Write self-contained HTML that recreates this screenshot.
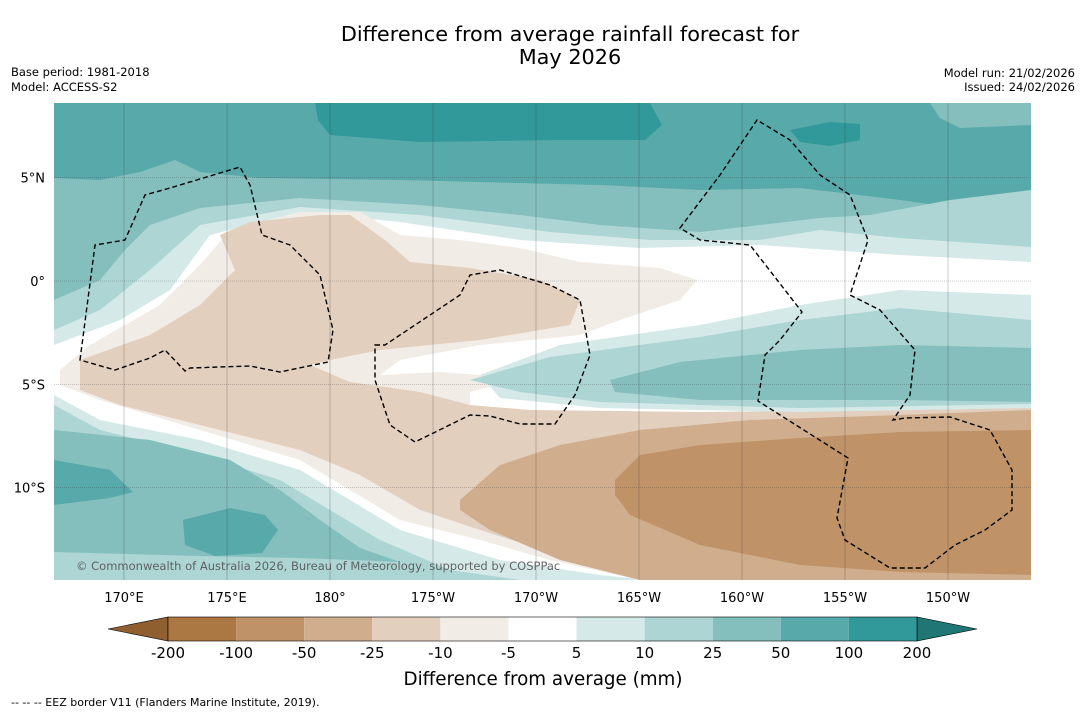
<!DOCTYPE html>
<html><head><meta charset="utf-8"><style>
html,body{margin:0;padding:0;background:#fff;}
body{width:1085px;height:713px;overflow:hidden;font-family:"Liberation Sans","DejaVu Sans",sans-serif;}
</style></head><body>
<svg id="chart" width="1085" height="713" xmlns="http://www.w3.org/2000/svg" font-family="DejaVu Sans, Liberation Sans, sans-serif">
<text x="570" y="41" font-size="20.8" text-anchor="middle">Difference from average rainfall forecast for</text>
<text x="570" y="64" font-size="20.8" text-anchor="middle">May 2026</text>
<text x="11" y="76" font-size="11.5">Base period: 1981-2018</text>
<text x="11" y="91" font-size="11.5">Model: ACCESS-S2</text>
<text x="1075" y="77" font-size="11.5" text-anchor="end">Model run: 21/02/2026</text>
<text x="1075" y="91" font-size="11.5" text-anchor="end">Issued: 24/02/2026</text>
<defs><clipPath id="mapclip"><rect x="54" y="103" width="977" height="477"/></clipPath></defs>
<g id="map" clip-path="url(#mapclip)">
<rect x="54" y="103" width="977" height="477" fill="#58a9aa"/>
<path fill="#319999" d="M315,103 L330,103 L650,103 L662,125 L645,140 L560,140 L420,142 L330,135 L318,120 Z M790,130 L830,122 L860,124 L860,140 L830,146 L800,142 Z"/>
<path fill="#84bfbe" d="M54,178 L100,180 L140,172 L175,160 L200,172 L260,178 L400,180 L600,185 L700,190 L800,188 L900,200 L950,207 L1031,205 L1031,580 L54,580 Z M930,103 L1031,103 L1031,125 L960,128 L940,118 Z"/>
<path fill="#acd5d4" d="M54,300 L100,280 L125,250 L150,225 L200,208 L300,198 L420,205 L520,215 L600,225 L700,232 L760,225 L820,218 L870,215 L950,200 L1031,190 L1031,580 L54,580 Z"/>
<path fill="#d5e9e8" d="M54,330 L100,310 L150,270 L200,225 L300,207 L420,215 L550,232 L650,240 L760,240 L820,230 L900,238 L1031,247 L1031,580 L54,580 Z"/>
<path fill="#ffffff" d="M54,345 L120,320 L170,290 L210,235 L300,212 L400,222 L520,240 L640,248 L760,245 L900,255 L1031,262 L1031,580 L54,580 Z"/>
<path fill="#d5e9e8" d="M54,395 L100,420 L200,440 L300,470 L350,500 L400,530 L500,560 L600,575 L650,580 L54,580 Z"/>
<path fill="#acd5d4" d="M54,405 L100,430 L200,455 L280,480 L330,510 L380,540 L450,570 L520,580 L54,580 Z"/>
<path fill="#84bfbe" d="M54,430 L150,440 L230,460 L280,490 L320,520 L360,548 L400,562 L300,558 L200,556 L54,552 Z"/>
<path fill="#58a9aa" d="M54,460 L110,470 L133,492 L110,498 L54,505 Z M183,520 L230,508 L265,515 L278,530 L262,553 L215,556 L185,545 Z"/>
<path fill="#f2ece6" d="M60,370 L90,345 L160,305 L200,265 L230,230 L300,212 L360,212 L400,235 L460,240 L520,248 L580,262 L660,268 L697,280 L680,300 L620,320 L580,335 L480,345 L400,360 L380,375 L440,372 L520,378 L470,392 L470,410 L600,412 L800,412 L1031,408 L1031,580 L640,580 L550,560 L480,540 L400,520 L350,490 L300,460 L200,430 L100,400 L60,385 Z"/>
<path fill="#e3cfbd" d="M80,360 L150,335 L200,305 L235,270 L220,235 L250,222 L320,215 L350,215 L385,240 L410,262 L470,268 L540,280 L580,300 L570,325 L480,340 L380,350 L330,360 L310,365 L350,382 L420,392 L470,405 L530,410 L700,412 L1031,408 L1031,580 L660,580 L560,555 L480,530 L420,510 L360,475 L300,450 L200,425 L120,405 L80,390 Z"/>
<path fill="#d0ae8d" d="M460,500 L500,465 L560,445 L640,430 L750,420 L900,415 L1031,410 L1031,580 L640,580 L560,560 L490,530 L460,510 Z"/>
<path fill="#bf9268" d="M615,480 L640,455 L700,445 L800,438 L900,432 L1031,430 L1031,575 L900,572 L800,565 L700,545 L630,515 L615,495 Z"/>
<path fill="#d5e9e8" d="M480,375 L560,345 L700,325 L800,305 L900,290 L1031,295 L1031,408 L800,412 L600,408 L500,398 Z"/>
<path fill="#acd5d4" d="M470,380 L550,357 L700,337 L800,320 L900,308 L1031,320 L1031,404 L800,408 L600,402 L520,392 Z"/>
<path fill="#84bfbe" d="M610,380 L680,362 L800,350 L900,345 L1031,348 L1031,402 L900,400 L700,400 L615,392 Z"/>
<g id="grid" stroke="#333" stroke-width="0.5" stroke-opacity="0.5"></g>
<g fill="none" stroke="#000" stroke-width="1.4" stroke-dasharray="5,3">
<path d="M80,360 L95,245 L125,240 L145,195 L170,188 L240,167 L250,185 L262,235 L290,245 L320,275 L333,330 L328,362 L280,372 L250,366 L190,368 L185,371 L165,350 L150,358 L115,370 Z"/>
<path d="M375,345 L385,345 L460,295 L470,275 L500,270 L550,285 L580,300 L590,355 L575,395 L555,424 L520,424 L490,416 L470,415 L415,442 L390,425 L375,380 Z"/>
<path d="M680,228 L720,175 L757,120 L790,140 L820,175 L850,195 L868,240 L850,295 L880,310 L915,350 L910,395 L893,420 L905,418 L950,417 L990,430 L1012,470 L1012,510 L985,530 L955,545 L925,568 L890,568 L845,540 L837,518 L848,458 L758,401 L765,355 L780,340 L802,312 L750,245 L700,240 Z"/>
</g>
<text x="76" y="570" font-size="11.5" fill="#555" fill-opacity="0.9">© Commonwealth of Australia 2026, Bureau of Meteorology, supported by COSPPac</text>
</g>
<g id="xticks" font-size="13" text-anchor="middle"></g>
<g id="yticks" font-size="13" text-anchor="end"></g>
<g id="cbar"></g>
<text x="543" y="685" font-size="18.3" text-anchor="middle">Difference from average (mm)</text>
<text x="11" y="706" font-size="11">--  --  -- EEZ border V11 (Flanders Marine Institute, 2019).</text>
</svg>
<script>
const lonLabels = ["170°E","175°E","180°","175°W","170°W","165°W","160°W","155°W","150°W"];
const lonValues = [170,175,180,185,190,195,200,205,210];
const latLabels = ["5°N","0°","5°S","10°S"];
const latValues = [5,0,-5,-10];
const levelLabels = ["-200","-100","-50","-25","-10","-5","5","10","25","50","100","200"];
const levelColors = ["#ab7743","#bf9268","#d0ae8d","#e3cfbd","#f2ece6","#ffffff","#d5e9e8","#acd5d4","#84bfbe","#58a9aa","#319999"];
const NS="http://www.w3.org/2000/svg";
function xLon(l){return 124+(l-170)*20.6;}
function yLat(l){return 281-l*20.67;}
const grid=document.getElementById('grid');
lonValues.forEach((v,i)=>{
 const ln=document.createElementNS(NS,'line');
 
 
 ln.setAttribute('x1',xLon(v));ln.setAttribute('x2',xLon(v));ln.setAttribute('y1',103);ln.setAttribute('y2',580);
 grid.appendChild(ln);
 const t=document.createElementNS(NS,'text');
 
 
 t.setAttribute('x',xLon(v));t.setAttribute('y',602);t.textContent=lonLabels[i];
 document.getElementById('xticks').appendChild(t);
});
latValues.forEach((v,i)=>{
 const ln=document.createElementNS(NS,'line');
 
 
 ln.setAttribute('x1',54);ln.setAttribute('x2',1031);ln.setAttribute('y1',yLat(v));ln.setAttribute('y2',yLat(v));
 ln.setAttribute('stroke-dasharray','1,1');
 grid.appendChild(ln);
 const t=document.createElementNS(NS,'text');
 
 
 t.setAttribute('x',45);t.setAttribute('y',yLat(v)+5);t.textContent=latLabels[i];
 document.getElementById('yticks').appendChild(t);
});
const cb=document.getElementById('cbar');
const cx0=168,cw=(917-168)/levelColors.length,cy=617,ch=24;
const lt=document.createElementNS(NS,'polygon');


lt.setAttribute('points',`${cx0},${cy} ${cx0},${cy+ch} 108,${cy+ch/2}`);lt.setAttribute('fill','#8f5f30');lt.setAttribute('stroke','#000');lt.setAttribute('stroke-width','0.6');
cb.appendChild(lt);
const rt=document.createElementNS(NS,'polygon');


rt.setAttribute('points',`917,${cy} 917,${cy+ch} 977,${cy+ch/2}`);rt.setAttribute('fill','#1f7674');rt.setAttribute('stroke','#000');rt.setAttribute('stroke-width','0.6');
cb.appendChild(rt);
levelColors.forEach((c,i)=>{
 const r=document.createElementNS(NS,'rect');
 
 
 r.setAttribute('x',cx0+i*cw);r.setAttribute('y',cy);r.setAttribute('width',cw);r.setAttribute('height',ch);r.setAttribute('fill',c);
 cb.appendChild(r);
});
const fr=document.createElementNS(NS,'rect');


fr.setAttribute('x',cx0);fr.setAttribute('y',cy);fr.setAttribute('width',917-cx0);fr.setAttribute('height',ch);fr.setAttribute('fill','none');fr.setAttribute('stroke','#000');fr.setAttribute('stroke-width','0.6');
cb.appendChild(fr);
levelLabels.forEach((l,i)=>{
 const t=document.createElementNS(NS,'text');
 
 
 t.setAttribute('x',cx0+i*cw);t.setAttribute('y',658);t.setAttribute('font-size','15');t.setAttribute('text-anchor','middle');t.textContent=l;
 cb.appendChild(t);
});
</script>
</body></html>
